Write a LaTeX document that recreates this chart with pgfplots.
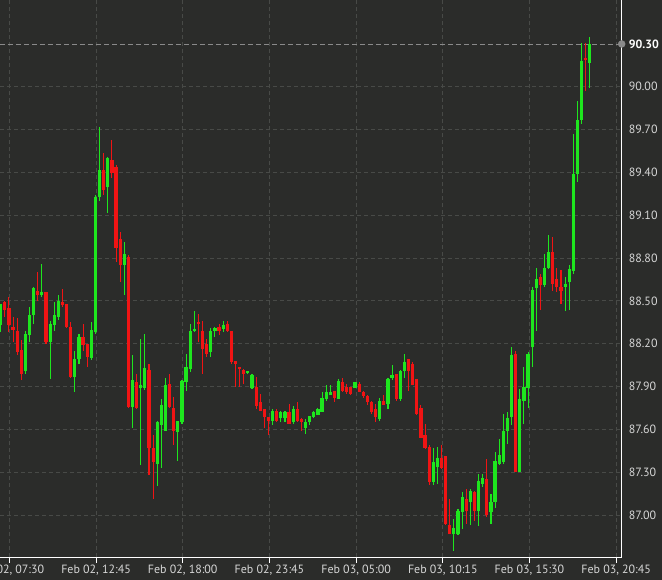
\documentclass[border=0pt]{standalone}
\usepackage{pgfplots}
\pgfplotsset{compat=1.18}
\usepackage{pgfplotstable}
\usepackage{fontspec}
\setmainfont{PT Sans}
\definecolor{bg}{HTML}{2B2C2A}
\definecolor{gridc}{HTML}{484A47}
\definecolor{upc}{HTML}{1EE61E}
\definecolor{dnc}{HTML}{F01414}
\definecolor{lab}{HTML}{D6D6D6}
\definecolor{pricel}{HTML}{8A8A8A}

% 15-minute candles: index, open, high, low, close
\pgfplotstableread{
i o h l c
0 88.33 88.48 88.28 88.48
6 88.01 88.29 87.99 88.27
7 88.26 88.46 88.21 88.40
8 88.40 88.60 88.34 88.59
10 88.54 88.76 88.53 88.56
12 88.21 88.36 87.95 88.34
13 88.33 88.49 88.29 88.40
14 88.39 88.54 88.37 88.50
18 87.97 88.15 87.86 88.09
19 88.09 88.27 88.06 88.25
22 88.10 88.35 88.09 88.30
23 88.28 89.24 88.27 89.23
24 89.23 89.72 89.20 89.42
26 89.30 89.51 89.12 89.50
30 88.75 88.91 88.54 88.83
32 87.76 88.12 87.61 87.95
34 87.89 88.23 87.35 87.91
35 87.89 88.27 87.88 88.03
38 87.36 87.66 87.20 87.65
39 87.63 87.81 87.33 87.77
40 87.59 87.96 87.59 87.91
43 87.58 87.66 87.38 87.66
44 87.65 87.95 87.64 87.94
45 87.93 88.13 87.87 88.04
46 88.02 88.34 88.00 88.29
47 88.29 88.43 88.28 88.30
51 88.14 88.31 88.11 88.29
52 88.29 88.32 88.25 88.31
54 88.30 88.36 88.28 88.33
60 88.00 88.01 87.99 88.01
61 87.89 87.99 87.88 87.98
66 87.66 87.74 87.63 87.73
68 87.68 87.73 87.65 87.72
69 87.68 87.73 87.65 87.72
71 87.65 87.76 87.64 87.74
74 87.61 87.67 87.57 87.65
75 87.65 87.69 87.63 87.69
76 87.69 87.73 87.68 87.72
77 87.70 87.75 87.70 87.74
78 87.72 87.86 87.72 87.82
79 87.81 87.91 87.80 87.86
80 87.84 87.91 87.84 87.86
82 87.81 87.95 87.81 87.94
86 87.89 87.93 87.89 87.93
92 87.67 87.82 87.66 87.80
94 87.78 87.96 87.74 87.95
95 87.96 88.05 87.95 87.98
97 87.81 88.02 87.80 88.01
98 88.01 88.13 87.96 88.07
105 87.23 87.47 87.21 87.37
106 87.34 87.48 87.22 87.40
110 86.87 86.97 86.75 86.91
111 86.87 87.04 86.86 87.03
112 87.02 87.16 86.90 87.13
114 87.09 87.18 86.93 87.17
116 87.03 87.29 86.92 87.24
117 87.22 87.29 87.20 87.26
119 87.02 87.15 86.94 87.09
120 87.09 87.44 87.05 87.38
121 87.36 87.53 87.35 87.42
122 87.37 87.71 87.36 87.59
123 87.59 87.72 87.50 87.68
124 87.69 88.18 87.63 88.12
126 87.30 87.88 87.30 87.81
127 87.80 88.04 87.64 87.90
128 87.89 88.14 87.75 88.13
129 88.18 88.60 88.04 88.58
130 88.59 88.73 88.29 88.65
132 88.61 88.83 88.60 88.73
133 88.73 88.96 88.72 88.84
137 88.60 88.67 88.43 88.62
138 88.63 88.75 88.44 88.72
139 88.71 89.67 88.69 89.39
140 89.39 89.90 89.33 89.77
141 89.77 90.31 89.74 90.18
143 90.17 90.35 89.99 90.30
}\upcandles

\pgfplotstableread{
i o h l c
1 88.49 88.50 88.39 88.44
2 88.45 88.53 88.28 88.33
3 88.32 88.39 88.21 88.30
4 88.29 88.38 88.12 88.14
5 88.16 88.23 87.95 87.99
9 88.57 88.70 88.50 88.54
11 88.56 88.56 88.20 88.21
15 88.49 88.58 88.46 88.47
16 88.48 88.48 88.31 88.32
17 88.32 88.35 87.96 87.97
20 88.25 88.34 88.15 88.19
21 88.20 88.20 88.04 88.11
25 89.42 89.54 89.24 89.28
27 89.49 89.63 89.36 89.40
28 89.44 89.45 88.77 88.87
29 88.93 88.98 88.63 88.75
31 88.81 88.82 87.75 87.76
33 87.93 87.99 87.74 87.75
36 88.02 88.06 87.28 87.47
37 87.47 87.56 87.11 87.37
41 87.92 87.99 87.75 87.76
42 87.75 87.83 87.49 87.59
48 88.35 88.41 88.21 88.34
49 88.29 88.36 87.99 88.16
50 88.20 88.23 88.11 88.13
53 88.32 88.34 88.26 88.29
55 88.34 88.36 88.28 88.29
56 88.29 88.29 88.06 88.07
57 88.08 88.08 87.90 88.06
58 88.04 88.04 87.90 88.02
59 88.02 88.02 87.92 87.99
62 87.90 87.97 87.74 87.76
63 87.79 87.85 87.73 87.73
64 87.74 87.74 87.61 87.69
65 87.69 87.69 87.56 87.66
67 87.73 87.74 87.65 87.66
70 87.72 87.78 87.64 87.64
72 87.74 87.79 87.65 87.66
73 87.67 87.68 87.59 87.65
81 87.87 87.87 87.79 87.82
83 87.93 87.96 87.86 87.87
84 87.90 87.92 87.85 87.86
85 87.90 87.90 87.84 87.85
87 87.92 87.93 87.86 87.86
88 87.86 87.87 87.82 87.83
89 87.83 87.84 87.77 87.79
90 87.79 87.80 87.71 87.72
91 87.74 87.78 87.65 87.69
93 87.80 87.84 87.77 87.77
96 87.99 87.99 87.80 87.81
99 88.09 88.09 87.87 88.01
100 88.06 88.07 87.91 87.91
101 87.95 87.95 87.70 87.71
102 87.75 87.77 87.54 87.54
103 87.56 87.64 87.46 87.47
104 87.48 87.49 87.21 87.23
107 87.40 87.49 87.32 87.33
108 87.41 87.41 86.93 86.94
109 86.93 87.11 86.87 86.87
113 87.11 87.18 86.94 87.03
115 87.16 87.17 86.96 87.03
118 87.25 87.39 86.99 87.00
125 88.13 88.15 87.30 87.30
131 88.67 88.69 88.44 88.61
134 88.84 88.95 88.57 88.62
135 88.65 88.73 88.56 88.60
136 88.60 88.72 88.48 88.57
142 90.20 90.31 89.97 90.19
}\downcandles

\begin{document}
\begin{tikzpicture}
\fill[bg] (0,-22.5bp) rectangle (662bp,557.5bp);
\useasboundingbox (0,-22.5bp) rectangle (662bp,557.5bp);
\begin{axis}[
  scale only axis, width=621.7bp, height=557.5bp,
  xmin=-0.17, xmax=150.73, ymin=86.702, ymax=90.608,
  axis x line=bottom, axis y line=right,
  axis line style={-, draw=white, line width=0.8bp},
  every outer x axis line/.append style={-},
  every outer y axis line/.append style={-},
  clip mode=individual,
  xtick={2.1,23.14,44.18,65.22,86.26,107.3,128.34,149.38},
  xticklabels={{Feb 02, 07:30},{Feb 02, 12:45},{Feb 02, 18:00},{Feb 02, 23:45},{Feb 03, 05:00},{Feb 03, 10:15},{Feb 03, 15:30},{Feb 03, 20:45}},
  ytick={87.0,87.3,87.6,87.9,88.2,88.5,88.8,89.1,89.4,89.7,90.0},
  yticklabels={87.00,87.30,87.60,87.90,88.20,88.50,88.80,89.10,89.40,89.70,90.00},
  extra y ticks={90.3},
  extra y tick labels={\textbf{90.30}},
  extra y tick style={grid=none, yticklabel style={text=white}},
  tick align=outside, major tick length=5bp,
  xtick style={draw=white, line width=0.8bp},
  ytick style={draw=none},
  tick label style={font=\fontsize{12}{14}\selectfont, text=lab},
  xticklabel style={inner sep=2bp},
  yticklabel style={inner sep=2bp, xshift=0bp},
  grid=major,
  major grid style={draw=gridc, line width=0.8bp, dash pattern=on 4bp off 3bp},
]
% current price line
\addplot[draw=pricel, line width=0.8bp, dash pattern=on 5bp off 3bp, forget plot] coordinates {(-0.17,90.3) (150.73,90.3)};
% wicks
\addplot[draw=none, mark=none, forget plot,
  error bars/.cd, y dir=both, y explicit, error mark=none,
  error bar style={draw=upc, line width=1.1bp}]
  table[x=i, y expr={(\thisrow{h}+\thisrow{l})/2}, y error expr={(\thisrow{h}-\thisrow{l})/2}] {\upcandles};
\addplot[draw=none, mark=none, forget plot,
  error bars/.cd, y dir=both, y explicit, error mark=none,
  error bar style={draw=dnc, line width=1.1bp}]
  table[x=i, y expr={(\thisrow{h}+\thisrow{l})/2}, y error expr={(\thisrow{h}-\thisrow{l})/2}] {\downcandles};
% bodies
\addplot[draw=none, mark=none, forget plot,
  error bars/.cd, y dir=both, y explicit, error mark=none,
  error bar style={draw=upc, line width=3.2bp}]
  table[x=i, y expr={(\thisrow{o}+\thisrow{c})/2}, y error expr={max(abs(\thisrow{c}-\thisrow{o})/2,0.004)}] {\upcandles};
\addplot[draw=none, mark=none, forget plot,
  error bars/.cd, y dir=both, y explicit, error mark=none,
  error bar style={draw=dnc, line width=3.2bp}]
  table[x=i, y expr={(\thisrow{o}+\thisrow{c})/2}, y error expr={max(abs(\thisrow{c}-\thisrow{o})/2,0.004)}] {\downcandles};
% price marker
\addplot[only marks, mark=*, mark size=3.5bp, color=pricel, forget plot] coordinates {(150.73,90.3)};
\end{axis}
\end{tikzpicture}
\end{document}
